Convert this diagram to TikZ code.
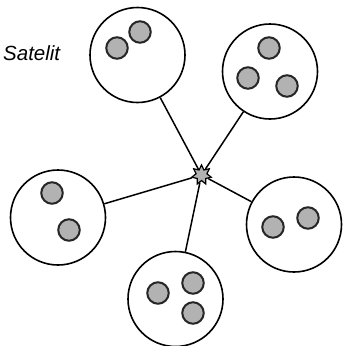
\documentclass[tikz,border=0pt]{standalone}
\usepackage{fontspec}
\setmainfont{Liberation Sans}
\usetikzlibrary{shapes.geometric}
\begin{document}
\begin{tikzpicture}[x=1pt,y=-1pt,
  sat/.style={circle,draw=black,line width=1.6pt,minimum size=95pt,inner sep=0pt},
  dot/.style={circle,draw=black!85,fill=black!30,line width=2pt,minimum size=21.5pt,inner sep=0pt},
  hub/.style={star,star points=7,star point ratio=1.8,draw=black,fill=black!30,line width=1.2pt,minimum size=20pt,inner sep=0pt},
  link/.style={line width=1.5pt}]
\useasboundingbox (0,0) rectangle (343,346);
\node[hub] (c) at (201.5,175) {};
\node[sat] (s1) at (137.5,55) {};
\node[sat] (s2) at (270,71.5) {};
\node[sat] (s3) at (58,217.5) {};
\node[sat] (s4) at (294,224.5) {};
\node[sat] (s5) at (175.5,299) {};
\draw[link] (c) -- (s1);
\draw[link] (c) -- (s2);
\draw[link] (c) -- (s3);
\draw[link] (c) -- (s4);
\draw[link] (c) -- (s5);
\node[dot] (a1) at (140,32) {};
\node[dot] (a2) at (117,48) {};
\node[dot] (b1) at (269,48) {};
\node[dot] (b2) at (248,78) {};
\node[dot] (b3) at (287,86) {};
\node[dot] (d1) at (52,193) {};
\node[dot] (d2) at (69,230) {};
\node[dot] (e1) at (273,227) {};
\node[dot] (e2) at (308,218) {};
\node[dot] (f1) at (158,293) {};
\node[dot] (f2) at (193,283) {};
\node[dot] (f3) at (193,313) {};
\node[font=\fontsize{20.5}{24}\selectfont\itshape, anchor=west, inner sep=0pt] (lbl) at (3,53) {Satelit};
\end{tikzpicture}
\end{document}
